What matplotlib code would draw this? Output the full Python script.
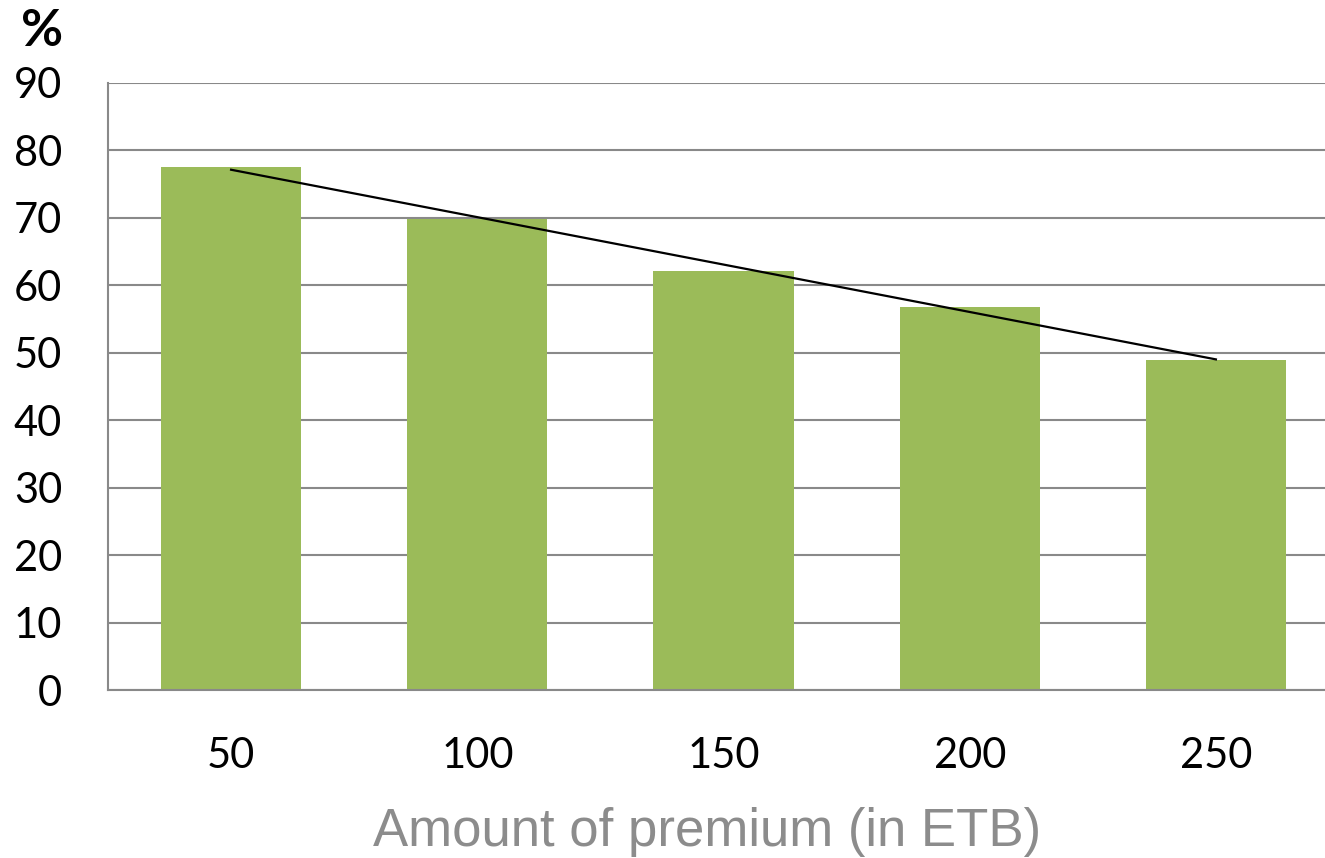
import numpy as np
import matplotlib.pyplot as plt

# Дані графіка
premium_labels = ["50", "100", "150", "200", "250"]
share_values = [77.6, 69.9, 62.1, 56.8, 49.0]
y_ticks = [0, 10, 20, 30, 40, 50, 60, 70, 80, 90]

bar_color = "#9BBB59"
grid_color = "#898989"

fig = plt.figure(figsize=(13.25, 8.58), dpi=100)
W, H = 1325, 858
ax = fig.add_axes([108 / W, (H - 690) / H, (1339 - 108) / W, (690 - 83) / H])

x = np.arange(len(premium_labels))
ax.bar(x, share_values, width=0.57, color=bar_color, zorder=2)

# Лінійний тренд
k, b = np.polyfit(x, share_values, 1)
ax.plot(x, k * x + b, color="black", linewidth=1.6, zorder=3)

ax.set_xlim(-0.5, len(premium_labels) - 0.5)
ax.set_ylim(0, 90)
ax.set_yticks(y_ticks)
ax.set_xticks(x)
ax.set_xticklabels(premium_labels)
ax.yaxis.grid(True, color=grid_color, linewidth=1.5, zorder=1)
ax.set_axisbelow(True)

for side in ["top", "right"]:
    ax.spines[side].set_visible(False)
for side in ["left", "bottom"]:
    ax.spines[side].set_color(grid_color)
    ax.spines[side].set_linewidth(1.5)

ax.tick_params(axis="both", length=0, labelsize=30)
ax.tick_params(axis="y", pad=33)
ax.tick_params(axis="x", pad=34)
for lab in ax.get_xticklabels() + ax.get_yticklabels():
    lab.set_fontfamily("Lato")

ax.set_xlabel("Amount of premium (in ETB)", fontsize=38, color="#8C8C8C",
              family="Liberation Sans")
ax.xaxis.set_label_coords((707 - 108) / 1231, -0.192)

fig.text(42 / W, 1 - 31 / H, "%", fontsize=37, fontweight="bold",
         family="Lato", ha="center", va="center")

fig.savefig("out.png", dpi=100)
